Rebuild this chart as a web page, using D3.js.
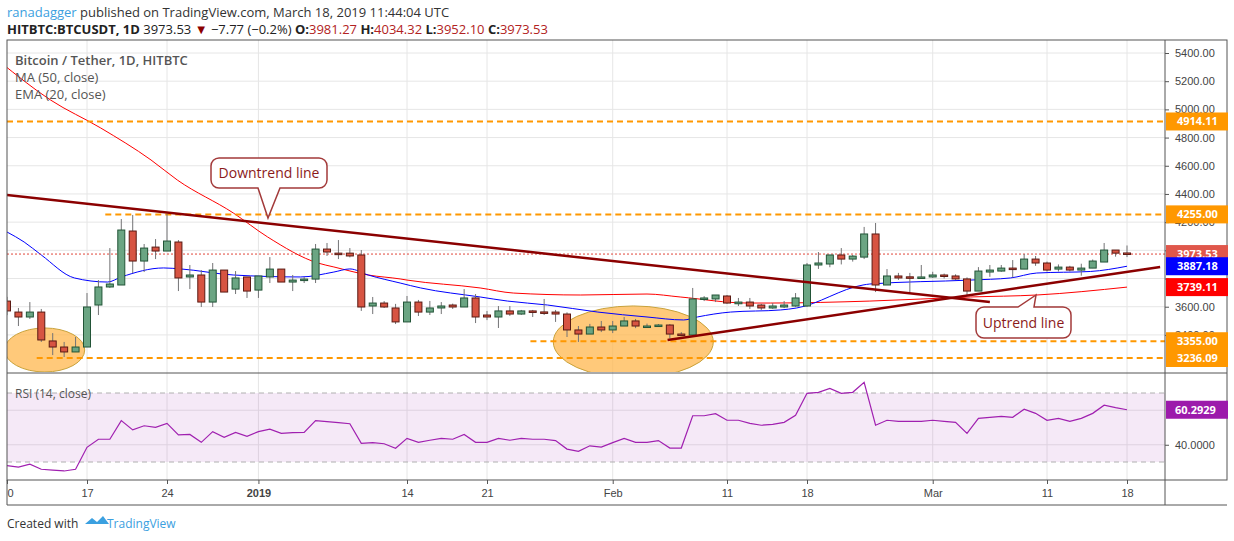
<!DOCTYPE html>
<html>
<head>
<meta charset="utf-8">
<script src="https://cdn.jsdelivr.net/npm/d3@7"></script>
<style>
  body { margin: 0; background: #fff; }
  svg { font-family: "Open Sans", sans-serif; }
</style>
</head>
<body>
<svg id="chart" width="1234" height="541"></svg>
<script>
// daily candles, Dec 10 2018 -> Mar 18 2019
const open = [3640, 3562, 3527, 3562, 3357, 3314, 3279, 3314, 3612, 3740, 3754, 4137, 3924, 4023, 3995, 4059, 3811, 3825, 3633, 3860,
  3725, 3811, 3718, 3811, 3867, 3775, 3789, 3796, 4009, 3980, 3980, 3967, 3605, 3626, 3591, 3492, 3633, 3562, 3591, 3612,
  3598, 3662, 3541, 3527, 3570, 3548, 3570, 3563, 3562, 3548, 3435, 3406, 3456, 3435, 3463, 3499, 3463, 3463, 3470, 3406,
  3399, 3655, 3655, 3676, 3621, 3633, 3612, 3591, 3598, 3605, 3605, 3896, 3903, 3967, 3938, 3952, 4116, 3754, 3818, 3812,
  3808, 3811, 3825, 3818, 3797, 3711, 3846, 3853, 3874, 3867, 3938, 3910, 3867, 3881, 3860, 3874, 3917, 4002, 3981.27]
const high = [3670, 3591, 3633, 3584, 3413, 3350, 3385, 3697, 3789, 4016, 4222, 4251, 4045, 4080, 4258, 4073, 3896, 3860, 3910, 3860,
  3853, 3811, 3818, 3952, 3867, 3825, 3811, 4045, 4052, 4073, 4016, 4002, 3669, 3640, 3620, 3676, 3648, 3641, 3633, 3622,
  3725, 3690, 3570, 3605, 3605, 3577, 3577, 3655, 3577, 3560, 3463, 3478, 3499, 3499, 3527, 3513, 3480, 3477, 3477, 3420,
  3733, 3675, 3683, 3683, 3662, 3662, 3620, 3626, 3640, 3697, 3910, 3988, 3967, 4016, 3967, 4166, 4194, 3867, 3840, 3840,
  3896, 3848, 3835, 3830, 3808, 3881, 3896, 3896, 3931, 3974, 3960, 3920, 3900, 3890, 3905, 3935, 4052, 4002, 4034.32]
const low = [3540, 3463, 3513, 3350, 3257, 3243, 3279, 3314, 3541, 3733, 3754, 3839, 3846, 3938, 3995, 3711, 3725, 3598, 3598, 3704,
  3690, 3662, 3662, 3768, 3775, 3711, 3768, 3768, 3960, 3938, 3950, 3570, 3548, 3591, 3477, 3492, 3534, 3541, 3548, 3584,
  3598, 3484, 3505, 3449, 3535, 3542, 3527, 3541, 3492, 3385, 3350, 3420, 3420, 3413, 3463, 3448, 3453, 3458, 3375, 3392,
  3385, 3640, 3633, 3620, 3605, 3584, 3577, 3585, 3590, 3600, 3598, 3868, 3880, 3900, 3920, 3938, 3704, 3754, 3790, 3690,
  3805, 3805, 3800, 3790, 3683, 3711, 3812, 3848, 3808, 3867, 3890, 3850, 3850, 3850, 3820, 3874, 3917, 3955, 3952.10]
const close = [3570, 3527, 3562, 3364, 3314, 3279, 3314, 3598, 3740, 3761, 4144, 3924, 4016, 3995, 4066, 3804, 3825, 3633, 3860, 3704,
  3804, 3711, 3818, 3867, 3775, 3789, 3796, 4009, 3988, 3975, 3960, 3598, 3626, 3598, 3492, 3633, 3562, 3591, 3605, 3598,
  3662, 3527, 3527, 3570, 3548, 3570, 3562, 3560, 3548, 3435, 3406, 3456, 3435, 3463, 3499, 3463, 3463, 3470, 3406, 3399,
  3655, 3662, 3683, 3626, 3633, 3605, 3591, 3605, 3612, 3662, 3896, 3910, 3967, 3938, 3959, 4116, 3754, 3818, 3804, 3808,
  3811, 3825, 3815, 3797, 3711, 3853, 3860, 3874, 3867, 3938, 3910, 3860, 3881, 3860, 3874, 3924, 4002, 3980, 3973.53]

// indicator lines: [day, value]
const ema20 = [[0, 4130], [1.5, 4059], [3, 3967], [5.9, 3804], [8.8, 3775], [10, 3811], [13.7, 3875], [15.2, 3868], [19.8, 3825],
  [25.7, 3811], [28.6, 3846], [30, 3868], [31.6, 3825], [34.4, 3768], [36.2, 3733], [41.4, 3669], [43.8, 3640], [47.3, 3612],
  [51.7, 3562], [56, 3527], [59.2, 3506], [60.4, 3527], [63.3, 3562], [67.7, 3577], [69.1, 3591], [74.9, 3754], [75.5, 3761],
  [84.3, 3789], [87.8, 3804], [90.1, 3839], [94.8, 3850], [98, 3887.18]]
const ma50 = [[-0.6, 5336], [3.8, 5067], [8.2, 4868], [12.6, 4641], [14.9, 4499], [19.8, 4265], [22.8, 4095], [27.2, 3910],
  [28.6, 3882], [31.6, 3825], [34.4, 3797], [35, 3789], [41.4, 3733], [44.3, 3697], [50.2, 3683], [56, 3690], [58.9, 3669],
  [64.8, 3626], [66.8, 3626], [75.5, 3640], [84.3, 3669], [90.1, 3683], [98, 3739.11]]
const rsi = [27.9, 27, 28.7, 25.8, 25.3, 24.8, 25.8, 38.5, 43.2, 43.2, 54, 48.6, 51, 50.1, 52.4, 45.7, 46, 41.4, 47.6, 44.3,
  47.2, 44.9, 47.6, 49, 46.6, 47, 47.2, 54, 53.4, 52.8, 52.2, 40.8, 41.2, 40.6, 38, 43.7, 41.4, 42.6, 43.7, 43.2,
  46, 41.4, 41.4, 43.7, 42.6, 43.7, 43.2, 43.2, 42.4, 37.5, 36.2, 39.4, 38.6, 41.2, 43.7, 41.4, 41.4, 42.4, 38.1, 38.1,
  56.8, 56.8, 58, 54.2, 54.2, 52.4, 51.3, 51.8, 53, 57.1, 69.8, 70.4, 72.7, 69.8, 70.4, 76.2, 51.3, 54.2, 53.6, 53.6,
  53.6, 54.2, 53.6, 53, 46.6, 55.3, 55.9, 56.5, 55.9, 60.6, 58.2, 54.2, 55.3, 53.6, 55.3, 58.2, 62.9, 61.5, 60.2929]

const dayTicks = [0, 7, 14, 22, 35, 42, 53, 63, 70, 81, 91, 98]
const dayLabels = ['10', '17', '24', '2019', '14', '21', 'Feb', '11', '18', 'Mar', '11', '18']
const priceTicks = [3400, 3600, 3800, 4000, 4200, 4400, 4600, 4800, 5000, 5200, 5400]
const hiddenPriceLabels = [3800, 4000] // fully covered by value boxes
const rsiTicks = [40, 60]

// levels drawn on the chart
const levels = [
  { value: 4914.11, from: -1 },
  { value: 4255.00, from: 8.6 },
  { value: 3355.00, from: 45.8 },
  { value: 3236.09, from: 2.6 }
]
const downtrend = [[-0.1, 4393], [86, 3633]]
const uptrend = [[57.8, 3364], [100.9, 3882]]
const lastPrice = 3973.53

const svg = d3.select('#chart')
const left = 7
const right = 1165
const x = d3.scaleLinear().domain([0, 98]).range([7, 1127])
const y = d3.scaleLinear().domain([3236.09, 5400]).range([358, 53])
const yr = d3.scaleLinear().domain([30, 70]).range([462, 393])

svg.append('defs').append('clipPath').attr('id', 'price-clip')
  .append('rect').attr('x', left).attr('y', 34).attr('width', right - left).attr('height', 338)
svg.select('defs').append('clipPath').attr('id', 'rsi-clip')
  .append('rect').attr('x', left).attr('y', 376).attr('width', right - left).attr('height', 104)

// header
const h1 = svg.append('text').attr('x', 7).attr('y', 17).attr('font-size', 13).attr('fill', '#333')
h1.append('tspan').attr('fill', '#3ba0e0').text('ranadagger')
h1.append('tspan').text(' published on TradingView.com, March 18, 2019 11:44:04 UTC')
const h2 = svg.append('text').attr('x', 7).attr('y', 34).attr('font-size', 13).attr('fill', '#222')
h2.append('tspan').attr('font-weight', 'bold').text('HITBTC:BTCUSDT, 1D')
h2.append('tspan').text('  3973.53 ')
h2.append('tspan').attr('fill', '#8b0000').text('▼')
h2.append('tspan').text(' −7.77 (−0.2%) ')
;[['O:', '3981.27'], ['H:', '4034.32'], ['L:', '3952.10'], ['C:', '3973.53']].forEach(([k, v]) => {
  h2.append('tspan').attr('font-weight', 'bold').text(k)
  h2.append('tspan').attr('fill', '#b22222').text(v + ' ')
})

// grid
const grid = svg.append('g').attr('stroke', '#e6e6e6').attr('stroke-width', 1)
dayTicks.slice(1).forEach(d => {
  grid.append('line').attr('x1', x(d)).attr('x2', x(d)).attr('y1', 40).attr('y2', 480)
})
priceTicks.forEach(p => {
  grid.append('line').attr('x1', left).attr('x2', right).attr('y1', y(p)).attr('y2', y(p))
})
rsiTicks.forEach(v => {
  grid.append('line').attr('x1', left).attr('x2', right).attr('y1', yr(v)).attr('y2', yr(v))
})

// rsi band
svg.append('rect').attr('x', left).attr('y', yr(70)).attr('width', right - left)
  .attr('height', yr(30) - yr(70)).attr('fill', '#9c27b0').attr('opacity', 0.1)
;[30, 70].forEach(v => {
  svg.append('line').attr('x1', left).attr('x2', right).attr('y1', yr(v)).attr('y2', yr(v))
    .attr('stroke', '#b0b0b0').attr('stroke-dasharray', '5,4')
})

// price pane
const pane = svg.append('g').attr('clip-path', 'url(#price-clip)')

pane.append('ellipse').attr('cx', x(3.3)).attr('cy', y(3293)).attr('rx', 40).attr('ry', 22)
  .attr('fill', '#ffb74d').attr('fill-opacity', 0.75).attr('stroke', '#c9a23a')
pane.append('ellipse').attr('cx', x(54.8)).attr('cy', y(3350)).attr('rx', 80).attr('ry', 36)
  .attr('fill', '#ffb74d').attr('fill-opacity', 0.75).attr('stroke', '#c9a23a')

const line = d3.line().x(d => x(d[0])).y(d => y(d[1])).curve(d3.curveMonotoneX)
pane.append('path').attr('d', line(ma50)).attr('fill', 'none').attr('stroke', '#ff0000').attr('stroke-width', 1)
pane.append('path').attr('d', line(ema20)).attr('fill', 'none').attr('stroke', '#0000ff').attr('stroke-width', 1)

pane.append('line').attr('x1', left).attr('x2', right).attr('y1', y(lastPrice)).attr('y2', y(lastPrice))
  .attr('stroke', '#e0463a').attr('stroke-dasharray', '2,2')

levels.forEach(l => {
  pane.append('line').attr('x1', Math.max(left, x(l.from))).attr('x2', right)
    .attr('y1', y(l.value)).attr('y2', y(l.value))
    .attr('stroke', '#ff9800').attr('stroke-width', 2).attr('stroke-dasharray', '6,4')
})

// candles
const days = d3.range(open.length)
const candles = pane.append('g').selectAll('g').data(days).enter().append('g')
candles.append('line')
  .attr('x1', d => x(d)).attr('x2', d => x(d))
  .attr('y1', d => y(high[d])).attr('y2', d => y(low[d]))
  .attr('stroke', '#737375')
candles.append('rect')
  .attr('x', d => x(d) - 3.5).attr('width', 7)
  .attr('y', d => y(Math.max(open[d], close[d])))
  .attr('height', d => Math.max(1.5, Math.abs(y(open[d]) - y(close[d]))))
  .attr('fill', d => close[d] >= open[d] ? '#6ba583' : '#d75442')
  .attr('stroke', d => close[d] >= open[d] ? '#225437' : '#5b1a13')

// trend lines
;[downtrend, uptrend].forEach(t => {
  pane.append('line').attr('x1', x(t[0][0])).attr('y1', y(t[0][1]))
    .attr('x2', x(t[1][0])).attr('y2', y(t[1][1]))
    .attr('stroke', '#8b0000').attr('stroke-width', 2.5)
})

// callouts
function callout (bx, by, bw, bh, tip, base, label) {
  const r = 8
  const g = svg.append('g')
  const p = d3.path()
  p.moveTo(bx + r, by)
  if (tip[1] < by) { p.lineTo(base[0], by); p.lineTo(tip[0], tip[1]); p.lineTo(base[1], by) }
  p.lineTo(bx + bw - r, by)
  p.arcTo(bx + bw, by, bx + bw, by + r, r)
  p.lineTo(bx + bw, by + bh - r)
  p.arcTo(bx + bw, by + bh, bx + bw - r, by + bh, r)
  if (tip[1] > by + bh) { p.lineTo(base[1], by + bh); p.lineTo(tip[0], tip[1]); p.lineTo(base[0], by + bh) }
  p.lineTo(bx + r, by + bh)
  p.arcTo(bx, by + bh, bx, by + bh - r, r)
  p.lineTo(bx, by + r)
  p.arcTo(bx, by, bx + r, by, r)
  p.closePath()
  g.append('path').attr('d', p.toString()).attr('fill', '#fff').attr('stroke', '#a33a3a').attr('stroke-width', 1.5)
  g.append('text').attr('x', bx + bw / 2).attr('y', by + bh / 2 + 5).attr('text-anchor', 'middle')
    .attr('font-size', 14).attr('fill', '#8b1a1a').text(label)
}
callout(211, 158, 116, 30, [268, 218], [258, 280], 'Downtrend line')
callout(976, 307, 95, 31, [1036, 295], [1018, 1034], 'Uptrend line')

// legend
const lg = svg.append('g').attr('font-size', 13).attr('fill', '#555')
lg.append('text').attr('x', 15).attr('y', 65).attr('font-weight', 600).text('Bitcoin / Tether, 1D, HITBTC')
lg.append('text').attr('x', 15).attr('y', 82).text('MA (50, close)')
lg.append('text').attr('x', 15).attr('y', 99).text('EMA (20, close)')

// rsi line
const rpane = svg.append('g').attr('clip-path', 'url(#rsi-clip)')
rpane.append('path')
  .attr('d', d3.line().x((d, i) => x(i)).y(d => yr(d))(rsi))
  .attr('fill', 'none').attr('stroke', '#a020b0').attr('stroke-width', 1.2)
svg.append('text').attr('x', 15).attr('y', 398).attr('font-size', 12).attr('fill', '#555').text('RSI (14, close)')

// frame
const frame = svg.append('g').attr('stroke', '#555').attr('fill', 'none')
frame.append('rect').attr('x', left).attr('y', 40).attr('width', 1227 - left).attr('height', 440)
frame.append('line').attr('x1', right).attr('x2', right).attr('y1', 40).attr('y2', 505)
frame.append('line').attr('x1', left).attr('x2', 1227).attr('y1', 373).attr('y2', 373)
frame.append('line').attr('x1', left).attr('x2', left).attr('y1', 480).attr('y2', 505)
frame.append('line').attr('x1', left).attr('x2', 1227).attr('y1', 505).attr('y2', 505)

// axes
const xAxis = d3.axisBottom(x).tickValues(dayTicks).tickSize(4).tickFormat((d, i) => dayLabels[i])
const xg = svg.append('g').attr('transform', 'translate(0,480)').call(xAxis)
xg.select('.domain').remove()
xg.selectAll('text').attr('font-size', 11).attr('fill', '#444').attr('dy', '0.9em')
  .attr('font-weight', (d, i) => dayLabels[i] === '2019' ? 'bold' : 'normal')
xg.selectAll('line').attr('stroke', '#555')
xg.selectAll('.tick').filter(d => d === 0).select('text').attr('x', 3).text('0')

const yAxis = d3.axisRight(y).tickValues(priceTicks).tickSize(4)
  .tickFormat(d => hiddenPriceLabels.includes(d) ? '' : d3.format('.2f')(d))
const yg = svg.append('g').attr('transform', `translate(${right},0)`).call(yAxis)
yg.select('.domain').remove()
yg.selectAll('text').attr('font-size', 11).attr('fill', '#444').attr('x', 10)
yg.selectAll('line').attr('stroke', '#555')

const rAxis = d3.axisRight(yr).tickValues([40]).tickSize(4).tickFormat(d3.format('.4f'))
const rg = svg.append('g').attr('transform', `translate(${right},0)`).call(rAxis)
rg.select('.domain').remove()
rg.selectAll('text').attr('font-size', 11).attr('fill', '#444').attr('x', 10)
rg.selectAll('line').attr('stroke', '#555')

// value boxes
const boxes = [
  { v: 4914.11, c: '#ff9800' }, { v: 4255.00, c: '#ff9800' },
  { v: 3973.53, c: '#e0574b' }, { v: 3887.18, c: '#0000ff' },
  { v: 3739.11, c: '#ff0000' }, { v: 3355.00, c: '#ff9800' },
  { v: 3236.09, c: '#ff9800' }
]
boxes.forEach(b => {
  const yy = y(b.v)
  svg.append('rect').attr('x', right + 1).attr('y', yy - 9).attr('width', 62).attr('height', 18).attr('fill', b.c)
  svg.append('text').attr('x', right + 12).attr('y', yy + 4).attr('font-size', 11).attr('font-weight', 'bold')
    .attr('fill', '#fff').text(b.v.toFixed(2))
})
svg.append('rect').attr('x', right + 1).attr('y', yr(60.2929) - 9).attr('width', 62).attr('height', 18).attr('fill', '#9c1aab')
svg.append('text').attr('x', right + 10).attr('y', yr(60.2929) + 4).attr('font-size', 11).attr('font-weight', 'bold')
  .attr('fill', '#fff').text('60.2929')

// footer
const ft = svg.append('g').attr('transform', 'translate(7,528)')
ft.append('text').attr('font-size', 12).attr('fill', '#333').text('Created with')
ft.append('path').attr('d', 'M78,-4 l7,-6 l5,4 l6,-6 l6,8 z').attr('fill', '#3ba0e0')
ft.append('text').attr('x', 100).attr('font-size', 12).attr('fill', '#3ba0e0').text('TradingView')
</script>
</body>
</html>
